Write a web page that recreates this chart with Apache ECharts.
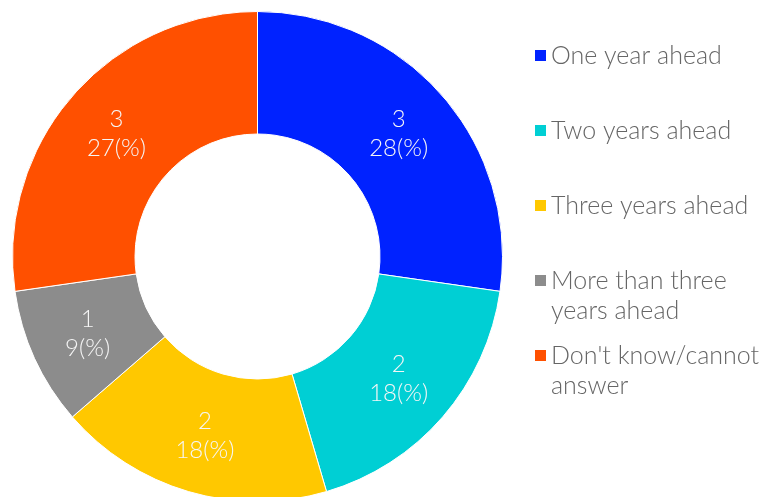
<!DOCTYPE html>
<html>
<head>
<meta charset="utf-8">
<script src="https://cdn.jsdelivr.net/npm/echarts@6/dist/echarts.min.js"></script>
<style>
  html, body { margin: 0; padding: 0; background: #fff; }
  #chart { width: 765px; height: 497px; }
</style>
</head>
<body>
<div id="chart"></div>
<script>
// Survey answers: when respondents expect the change
const categories = [
  'One year ahead',
  'Two years ahead',
  'Three years ahead',
  'More than three years ahead',
  "Don't know/cannot answer"
];
// Legend text with manual line breaks
const legendLabels = [
  'One year ahead',
  'Two years ahead',
  'Three years ahead',
  'More than three\nyears ahead',
  "Don't know/cannot\nanswer"
];
const counts = [3, 2, 2, 1, 3];
const colors = ['#0022FF', '#00CFD4', '#FFC800', '#8C8C8C', '#FF5000'];

const FONT = 'Lato';
const chart = echarts.init(document.getElementById('chart'), null, { renderer: 'canvas' });

// One legend block per category so each sits at its own row.
// Wrapped entries get a blank leading line so the marker sits
// beside the first line of text rather than between the two.
const legendTops = [55.5, 130.5, 205.5, 280.5, 355.5];
const legends = categories.map((name, i) => {
  const multi = legendLabels[i].indexOf('\n') >= 0;
  return {
    orient: 'vertical',
    left: 533,
    top: legendTops[i] - (multi ? 45 : 15),
    itemWidth: 13,
    itemHeight: 13,
    itemGap: 0,
    padding: 0,
    icon: 'rect',
    selectedMode: false,
    data: [name],
    formatter: () => (multi ? ' \n' : '') + legendLabels[i],
    textStyle: {
      fontFamily: FONT,
      fontWeight: 300,
      fontSize: 25,
      color: '#666666',
      lineHeight: 30,
      padding: [0, 0, 0, -1]
    }
  };
});

chart.setOption({
  animation: false,
  color: colors,
  legend: legends,
  series: [{
    type: 'pie',
    center: [257.5, 256.5],
    radius: [122.5, 245],
    startAngle: 90,
    clockwise: true,
    percentPrecision: 0,
    avoidLabelOverlap: false,
    itemStyle: { borderColor: '#ffffff', borderWidth: 1 },
    label: {
      show: true,
      position: 'inside',
      formatter: '{c}\n{d}(%)',
      fontFamily: FONT,
      fontWeight: 300,
      fontSize: 24,
      lineHeight: 29,
      color: '#F6F6F6'
    },
    labelLine: { show: false },
    emphasis: { disabled: true },
    data: categories.map((name, i) => ({ name: name, value: counts[i] }))
  }]
});
</script>
</body>
</html>
